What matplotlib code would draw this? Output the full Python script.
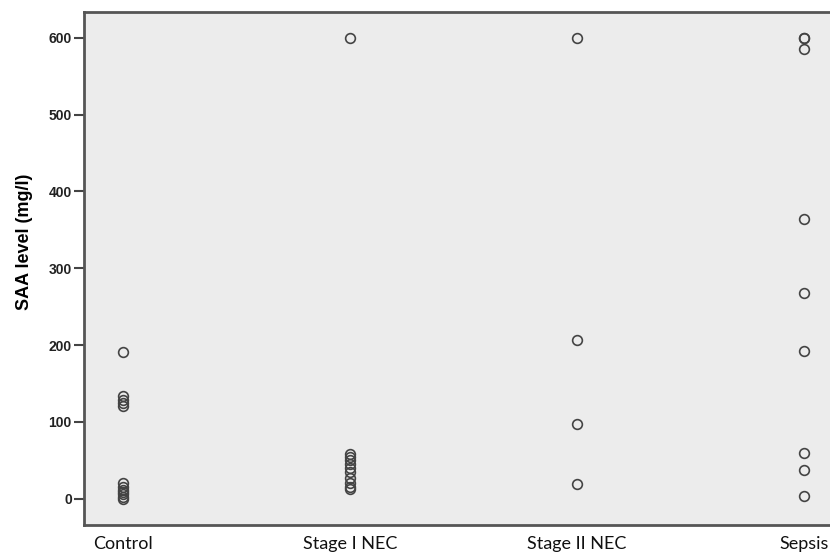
import numpy as np
import matplotlib.pyplot as plt

groups = ["Control", "Stage I NEC", "Stage II NEC", "Sepsis"]
control = [191, 134, 129, 125, 121, 20, 16, 12, 9, 6, 3, 0]
stage1 = [600, 58, 55, 50, 45, 40, 35, 27, 20, 15, 13]
stage2 = [600, 207, 98, 19]
sepsis = [600, 600, 585, 364, 268, 192, 60, 38, 4]
yticks = [0, 100, 200, 300, 400, 500, 600]

fig = plt.figure(figsize=(8.3, 5.53), dpi=100)
ax = fig.add_axes([84.3 / 830, 1 - 525 / 553, 1 - 84.3 / 830 + 0.01, (525 - 12.3) / 553])
ax.set_facecolor("#ececec")

for i, vals in enumerate([control, stage1, stage2, sepsis]):
    ax.plot(np.full(len(vals), i), vals, linestyle="none", marker="o",
            markersize=7, markerfacecolor="none", markeredgecolor="#444444",
            markeredgewidth=1.2)

ax.set_xlim(-0.17, 3.114 + 0.01 * 830 / 227)
ax.set_ylim(-34, 633)

ax.set_yticks(yticks)
ax.set_yticklabels([str(v) for v in yticks], fontfamily="Liberation Sans",
                   fontweight="bold", fontsize=10, color="#222222")
ax.tick_params(axis="y", length=7, width=1.5, color="#444444", pad=2)

ax.set_xticks(range(len(groups)))
ax.set_xticklabels(groups, fontfamily="Lato", fontsize=13, color="#111111")
ax.tick_params(axis="x", length=0, pad=8)

ax.set_ylabel("SAA level (mg/l)", fontfamily="Liberation Sans",
              fontweight="bold", fontsize=13)
ax.yaxis.set_label_coords(-0.068, 0.552)

for s in ax.spines.values():
    s.set_color("#555555")
    s.set_linewidth(2)

fig.savefig("out.png", dpi=100)
